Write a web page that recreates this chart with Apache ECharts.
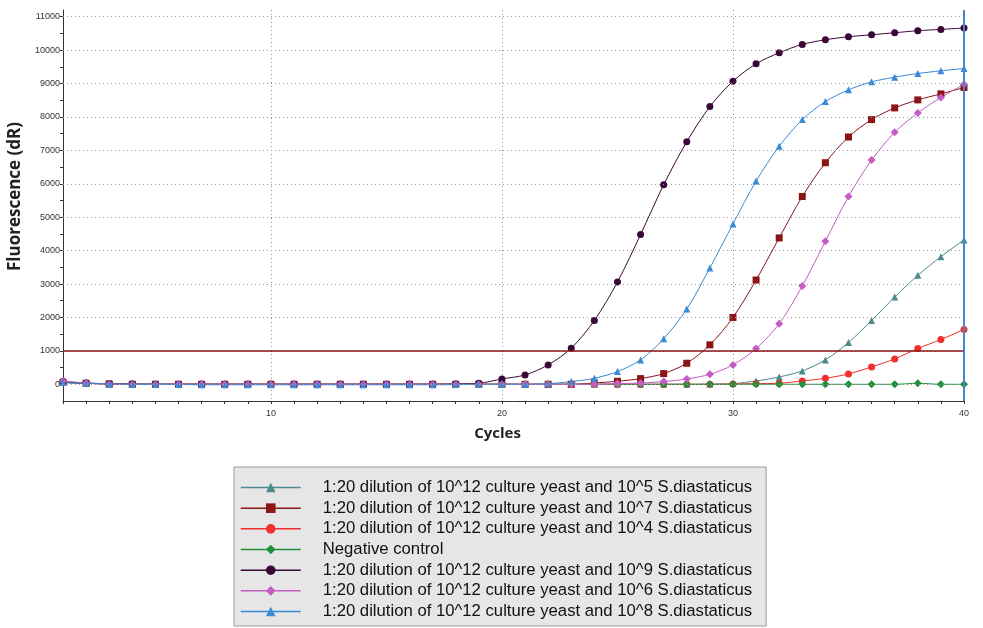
<!DOCTYPE html>
<html>
<head>
<meta charset="utf-8">
<script src="https://cdn.jsdelivr.net/npm/echarts@6/dist/echarts.min.js"></script>
<style>html,body{margin:0;padding:0;background:#fff;}#c{width:983px;height:628px;}</style>
</head>
<body>
<div id="c"></div>
<script>
const cycles = Array.from({length: 40}, (_, i) => String(i + 1));
const yTickLabels = [0,1000,2000,3000,4000,5000,6000,7000,8000,9000,10000,11000];
const threshold = 1000;

const names = [
  '1:20 dilution of 10^12 culture yeast and 10^5 S.diastaticus',
  '1:20 dilution of 10^12 culture yeast and 10^7 S.diastaticus',
  '1:20 dilution of 10^12 culture yeast and 10^4 S.diastaticus',
  'Negative control',
  '1:20 dilution of 10^12 culture yeast and 10^9 S.diastaticus',
  '1:20 dilution of 10^12 culture yeast and 10^6 S.diastaticus',
  '1:20 dilution of 10^12 culture yeast and 10^8 S.diastaticus'
];

const s1e5 = [60,30,10,0,0,0,0,0,0,0,0,0,0,0,0,0,0,0,0,0,0,0,0,0,0,0,0,0,5,20,100,220,400,730,1250,1910,2610,3260,3820,4320];
const s1e7 = [60,30,10,0,0,0,0,0,0,0,0,0,0,0,0,0,0,0,0,0,0,0,0,40,90,170,320,630,1180,2000,3120,4380,5620,6630,7400,7920,8270,8510,8690,8880];
const s1e4 = [60,30,10,0,0,0,0,0,0,0,0,0,0,0,0,0,0,0,0,0,0,0,0,0,0,0,0,0,0,10,20,30,100,180,310,520,760,1070,1340,1640];
const sNeg = [50,30,10,0,0,0,0,0,0,0,0,0,0,0,0,0,0,0,0,0,0,0,0,0,0,0,0,0,0,0,0,0,0,0,0,0,0,30,0,0];
const s1e9 = [80,40,15,5,0,0,0,0,0,0,0,0,0,0,0,0,0,10,30,160,280,580,1080,1910,3060,4480,5970,7260,8310,9070,9590,9920,10170,10310,10400,10460,10520,10580,10620,10660];
const s1e6 = [90,40,10,0,0,0,0,0,0,0,0,0,0,0,0,0,0,0,0,0,0,0,0,0,20,40,80,160,300,580,1070,1810,2940,4280,5620,6710,7540,8120,8580,8980];
const s1e8 = [50,30,10,0,0,-5,-15,-15,-15,-15,-15,-15,-15,-15,-15,-15,-15,-10,0,0,0,20,80,180,380,730,1360,2250,3480,4800,6080,7120,7920,8460,8810,9050,9190,9300,9380,9450];

const seriesData = [s1e5, s1e7, s1e4, sNeg, s1e9, s1e6, s1e8];
const colors = ['#4d8a8c', '#8b1414', '#f0302c', '#1f8f3c', '#3a0838', '#c45cc4', '#3a8ad8'];
const symbols = ['triangle', 'rect', 'circle', 'diamond', 'circle', 'diamond', 'triangle'];
const sizes = [7, 7, 7, 8, 7, 8, 7];

const series = seriesData.map((d, i) => ({
  name: names[i],
  type: 'line',
  data: d,
  smooth: 0.3,
  symbol: symbols[i],
  symbolSize: sizes[i],
  color: colors[i],
  lineStyle: {width: 1, color: colors[i]},
  itemStyle: {color: colors[i]},
  emphasis: {disabled: true},
  z: 3,
  animation: false
}));

// horizontal dotted gridlines at labelled values (behind data)
series.unshift({
  name: '__grid',
  type: 'line',
  data: [],
  z: 1,
  silent: true,
  animation: false,
  markLine: {
    silent: true,
    symbol: 'none',
    label: {show: false},
    animation: false,
    lineStyle: {color: '#999', type: [1, 3], width: 1},
    data: yTickLabels.map(v => ({yAxis: v}))
  }
});

series[series.length - 1].markLine = {
  silent: true,
  symbol: 'none',
  label: {show: false},
  animation: false,
  data: [
    {yAxis: threshold, lineStyle: {color: '#8b1414', width: 1.5, type: 'solid'}},
    {xAxis: '40', lineStyle: {color: '#4a86cc', width: 2, type: 'solid'}}
  ]
};

const chart = echarts.init(document.getElementById('c'), null, {renderer: 'canvas'});
chart.setOption({
  animation: false,
  backgroundColor: '#fff',
  grid: {left: 63, right: 19, top: 10, bottom: 227, containLabel: false, outerBoundsMode: 'none'},
  xAxis: {
    type: 'category',
    data: cycles,
    boundaryGap: false,
    name: 'Cycles',
    nameLocation: 'middle',
    nameGap: 25,
    nameTextStyle: {fontFamily: 'Open Sans', fontWeight: 'bold', fontSize: 15, color: '#222', padding: [0, 32, 0, 0]},
    axisLine: {onZero: false, lineStyle: {color: '#333', width: 1}},
    axisTick: {show: true, interval: 0, length: 3, lineStyle: {color: '#333'}},
    axisLabel: {
      interval: (i) => (i + 1) % 10 === 0,
      fontSize: 9, color: '#333', fontFamily: 'Liberation Sans', margin: 8
    },
    splitLine: {
      show: true,
      interval: (i) => (i + 1) % 10 === 0 && i !== 39,
      lineStyle: {color: '#999', type: [1, 3], width: 1}
    }
  },
  yAxis: {
    type: 'value',
    min: -500,
    max: 11200,
    interval: 500,
    name: 'Fluorescence (dR)',
    nameLocation: 'middle',
    nameGap: 26,
    nameTextStyle: {fontFamily: 'Open Sans', fontWeight: 'bold', fontSize: 17, color: '#222', padding: [0, 0, 0, 18]},
    axisLine: {show: true, onZero: false, lineStyle: {color: '#333', width: 1}},
    axisTick: {show: true, length: 3, lineStyle: {color: '#333'}},
    axisLabel: {
      showMinLabel: false, showMaxLabel: false,
      formatter: (v) => yTickLabels.includes(v) ? String(v) : '',
      fontSize: 9, color: '#333', fontFamily: 'Liberation Sans', margin: 3
    },
    splitLine: {show: false}
  },
  legend: {
    orient: 'vertical',
    left: 234,
    top: 467,
    padding: [12, 14, 6, 6],
    itemWidth: 60,
    itemHeight: 12,
    itemGap: 3.67,
    backgroundColor: '#e6e6e6',
    borderColor: '#9a9a9a',
    borderWidth: 1,
    borderRadius: 0,
    selectedMode: false,
    lineStyle: {width: 1.5},
    textStyle: {fontFamily: 'Liberation Sans', fontSize: 16.7, lineHeight: 17, color: '#111', padding: [0, 0, 0, 17]},
    data: names
  },
  series: series
});
</script>
</body>
</html>
